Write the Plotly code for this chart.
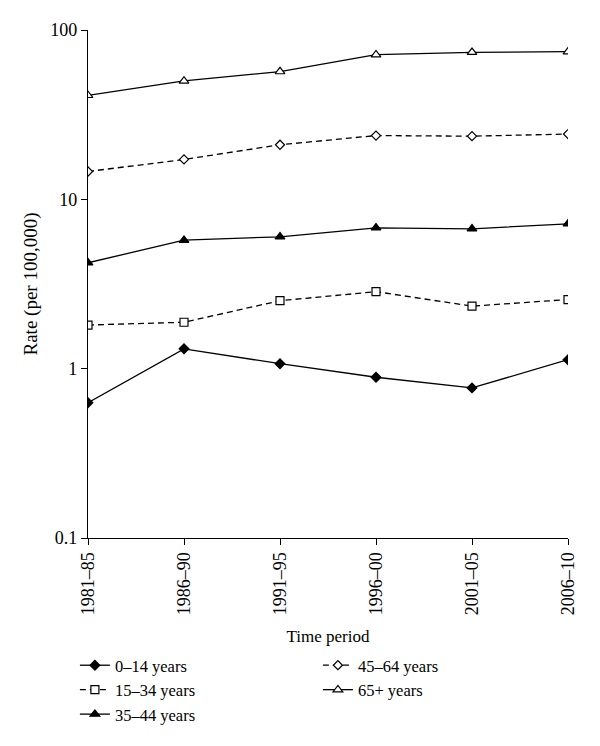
import plotly.graph_objects as go

periods = ["1981–85", "1986–90", "1991–95", "1996–00", "2001–05", "2006–10"]
age_0_14 = [0.63, 1.31, 1.07, 0.89, 0.77, 1.13]
age_15_34 = [1.81, 1.88, 2.52, 2.85, 2.34, 2.56]
age_35_44 = [4.22, 5.74, 6.01, 6.79, 6.70, 7.17]
age_45_64 = [14.6, 17.2, 21.0, 23.8, 23.6, 24.3]
age_65p = [41.1, 50.0, 56.8, 71.5, 73.8, 74.5]
y_ticks = [0.1, 1, 10, 100]
y_tick_text = ["0.1", "1", "10", "100"]

FONT = "Liberation Serif"
series = [
    ("0–14 years", age_0_14, "solid", "diamond", "black", 7.5, "legend"),
    ("15–34 years", age_15_34, "6px,4px", "square", "white", 8, "legend"),
    ("35–44 years", age_35_44, "solid", "triangle-up", "black", 8.5, "legend"),
    ("45–64 years", age_45_64, "6px,4px", "diamond", "white", 7, "legend2"),
    ("65+ years", age_65p, "solid", "triangle-up", "white", 8.5, "legend2"),
]

fig = go.Figure()
for name, vals, dash, sym, fill, size, leg in series:
    fig.add_trace(go.Scatter(
        x=periods, y=vals, name=name, mode="lines+markers",
        line=dict(color="black", width=1.3, dash=dash),
        marker=dict(symbol=sym, size=size, color=fill,
                    line=dict(color="black", width=1.2)),
        legend=leg,
    ))

# page body has an 8px margin, so the figure is drawn 8px smaller and offset
fig.update_layout(
    width=592, height=738,
    margin=dict(l=80, r=32, t=22, b=208),
    paper_bgcolor="white", plot_bgcolor="white",
    font=dict(family=FONT, size=17, color="black"),
    xaxis=dict(
        type="category", range=[0, 5], showline=True, linecolor="black", linewidth=1.3,
        ticks="outside", ticklen=6, tickcolor="black", tickwidth=1.2,
        tickangle=-90, tickfont=dict(family=FONT, size=18),
        showgrid=False, zeroline=False, automargin=False,
        title=dict(text="Time period", font=dict(family=FONT, size=17), standoff=15),
    ),
    yaxis=dict(
        type="log", range=[-1, 2], showline=True, linecolor="black", linewidth=1.3,
        ticks="outside", ticklen=6, tickcolor="black", tickwidth=1.2,
        tickvals=y_ticks, ticktext=y_tick_text, tickfont=dict(family=FONT, size=18),
        showgrid=False, zeroline=False, automargin=False,
        title=dict(text="Rate (per 100,000)", font=dict(family=FONT, size=19), standoff=7),
    ),
    legend=dict(x=-0.0273, y=0.1328, xanchor="left", yanchor="top", yref="container",
                font=dict(family=FONT, size=16.5), tracegroupgap=0,
                itemwidth=30, bgcolor="rgba(0,0,0,0)"),
    legend2=dict(x=0.479, y=0.1328, xanchor="left", yanchor="top", yref="container",
                 font=dict(family=FONT, size=16.5), tracegroupgap=0,
                 itemwidth=30, bgcolor="rgba(0,0,0,0)"),
)

fig.write_html("out.html")
